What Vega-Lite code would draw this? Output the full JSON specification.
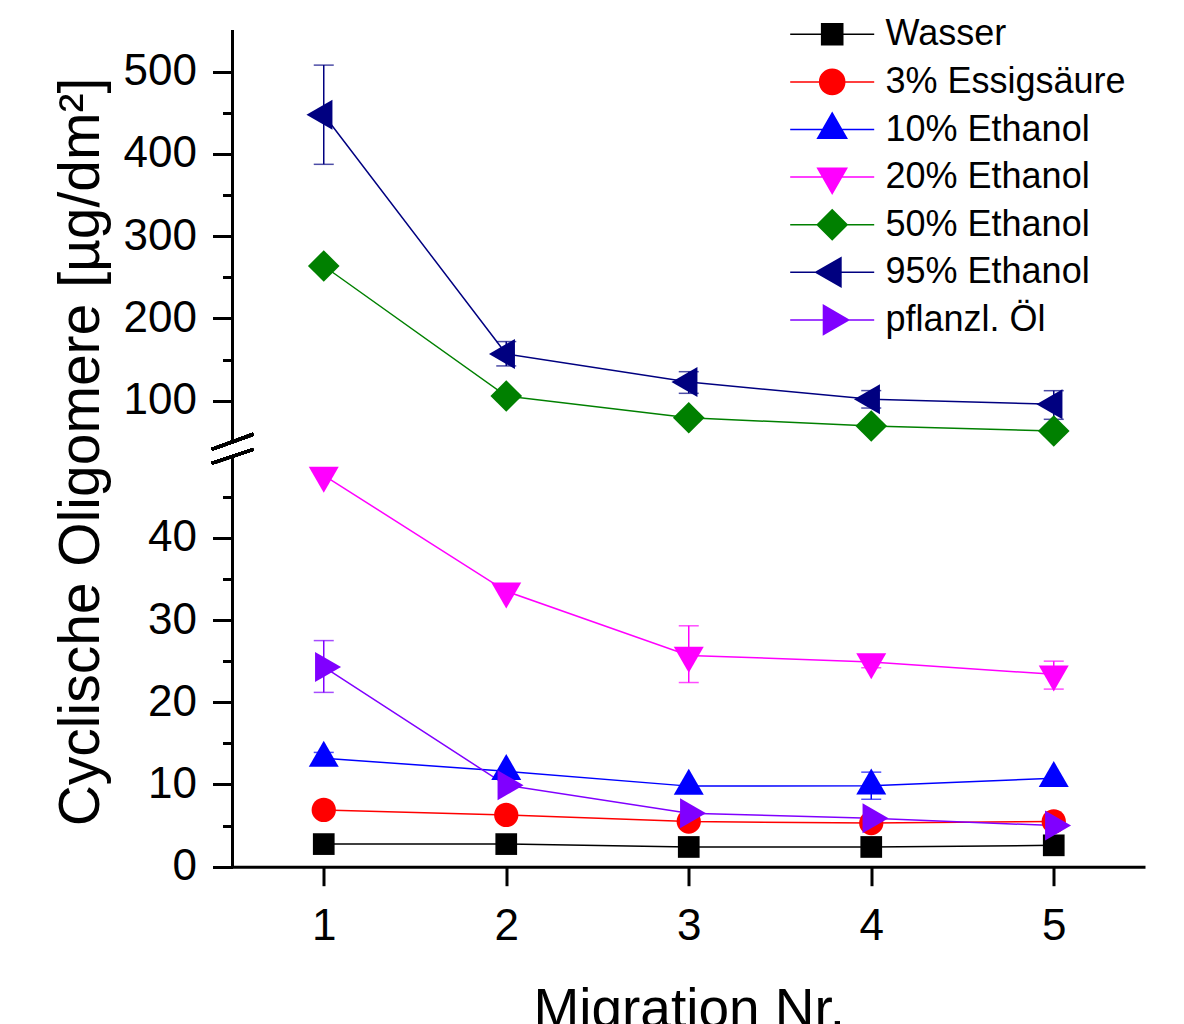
{
  "$schema": "https://vega.github.io/schema/vega-lite/v6.json",
  "autosize": {"type": "none"},
  "width": 912.5,
  "height": 836.7,
  "padding": {"left": 232.5, "top": 30, "right": 39, "bottom": 157.3},
  "config": {
    "view": {"stroke": null},
    "font": "Liberation Sans",
    "axis": {"grid": false, "labelFont": "Liberation Sans", "titleFont": "Liberation Sans", "labelColor": "black", "titleColor": "black", "domainColor": "black", "tickColor": "black", "titleFontWeight": "normal"},
    "legend": {"labelFont": "Liberation Sans", "labelColor": "black", "labelLimit": 0}
  },
  "data": {
    "values": [
      {"series": "Wasser", "x": 1, "y": 2.75},
      {"series": "Wasser", "x": 2, "y": 2.75},
      {"series": "Wasser", "x": 3, "y": 2.4},
      {"series": "Wasser", "x": 4, "y": 2.4},
      {"series": "Wasser", "x": 5, "y": 2.6},
      {"series": "3% Essigsäure", "x": 1, "y": 6.9},
      {"series": "3% Essigsäure", "x": 2, "y": 6.3},
      {"series": "3% Essigsäure", "x": 3, "y": 5.5},
      {"series": "3% Essigsäure", "x": 4, "y": 5.3},
      {"series": "3% Essigsäure", "x": 5, "y": 5.5},
      {"series": "10% Ethanol", "x": 1, "y": 13.2, "lo": 12.5, "hi": 13.9},
      {"series": "10% Ethanol", "x": 2, "y": 11.6},
      {"series": "10% Ethanol", "x": 3, "y": 9.8},
      {"series": "10% Ethanol", "x": 4, "y": 9.85, "lo": 8.2, "hi": 11.5},
      {"series": "10% Ethanol", "x": 5, "y": 10.75},
      {"series": "20% Ethanol", "x": 1, "y": 47.6},
      {"series": "20% Ethanol", "x": 2, "y": 33.5},
      {"series": "20% Ethanol", "x": 3, "y": 25.7, "lo": 22.4, "hi": 29.3},
      {"series": "20% Ethanol", "x": 4, "y": 24.9, "lo": 24.2, "hi": 25.6},
      {"series": "20% Ethanol", "x": 5, "y": 23.4, "lo": 21.6, "hi": 25.0},
      {"series": "50% Ethanol", "x": 1, "y": 263.8},
      {"series": "50% Ethanol", "x": 2, "y": 105.7},
      {"series": "50% Ethanol", "x": 3, "y": 79.3},
      {"series": "50% Ethanol", "x": 4, "y": 69.2},
      {"series": "50% Ethanol", "x": 5, "y": 63.2},
      {"series": "95% Ethanol", "x": 1, "y": 447.7, "lo": 387.4, "hi": 508.0},
      {"series": "95% Ethanol", "x": 2, "y": 156.8, "lo": 142.3, "hi": 171.9},
      {"series": "95% Ethanol", "x": 3, "y": 122.7, "lo": 109.0, "hi": 135.3},
      {"series": "95% Ethanol", "x": 4, "y": 101.7, "lo": 91.1, "hi": 112.3},
      {"series": "95% Ethanol", "x": 5, "y": 95.6, "lo": 77.4, "hi": 112.2},
      {"series": "pflanzl. Öl", "x": 1, "y": 24.3, "lo": 21.2, "hi": 27.5},
      {"series": "pflanzl. Öl", "x": 2, "y": 9.9},
      {"series": "pflanzl. Öl", "x": 3, "y": 6.5},
      {"series": "pflanzl. Öl", "x": 4, "y": 5.9},
      {"series": "pflanzl. Öl", "x": 5, "y": 5.0}
    ]
  },
  "resolve": {"scale": {"y": "shared", "color": "independent", "shape": "independent"}, "axis": {"y": "independent"}, "legend": {"color": "independent", "shape": "independent"}},
  "layer": [
    {
      "transform": [{"filter": "isValid(datum.lo)"}],
      "mark": {"type": "errorbar", "thickness": 1.5, "ticks": {"size": 20, "thickness": 1.5}},
      "encoding": {
        "x": {"field": "x", "type": "quantitative",
          "scale": {"domain": [0.5, 5.5], "nice": false, "zero": false},
          "axis": {"values": [1, 2, 3, 4, 5], "format": "d", "title": "Migration Nr.", "titleFontSize": 55, "titleBaseline": "alphabetic", "titleY": 159.5, "labelFontSize": 44, "labelPadding": 19, "tickSize": 19, "tickWidth": 3, "domainWidth": 3, "labelFlush": false}},
        "y": {"field": "lo", "type": "quantitative",
          "scale": {"domain": [0, 50, 50.3, 550.7], "range": [836.7, 425.6, 411.6, 0], "nice": false, "zero": false},
          "axis": {"values": [0, 10, 20, 30, 40, 100, 200, 300, 400, 500], "format": "d", "title": "Cyclische Oligomere [µg/dm²]", "titleFontSize": 57, "titleAngle": -90, "titleBaseline": "alphabetic", "titleAlign": "center", "titleX": -134.5, "titleY": 421.5, "labelFontSize": 44, "labelPadding": 16, "tickSize": 20, "tickWidth": 3, "domain": false, "labelFlush": false, "labelOverlap": false, "orient": "left"}},
        "y2": {"field": "hi"},
        "color": {"field": "series", "type": "nominal", "legend": null,
          "scale": {"domain": ["Wasser", "3% Essigsäure", "10% Ethanol", "20% Ethanol", "50% Ethanol", "95% Ethanol", "pflanzl. Öl"],
                    "range": ["#000000", "#FF0000", "#0000FF", "#FF00FF", "#008000", "#000080", "#8000FF"]}}
      }
    },
    {
      "mark": {"type": "line", "strokeWidth": 1.5},
      "encoding": {
        "x": {"field": "x", "type": "quantitative"},
        "y": {"field": "y", "type": "quantitative", "axis": null},
        "color": {"field": "series", "type": "nominal", "legend": null,
          "scale": {"domain": ["Wasser", "3% Essigsäure", "10% Ethanol", "20% Ethanol", "50% Ethanol", "95% Ethanol", "pflanzl. Öl"],
                    "range": ["#000000", "#FF0000", "#0000FF", "#FF00FF", "#008000", "#000080", "#8000FF"]}}
      }
    },
    {
      "mark": {"type": "point", "filled": true, "opacity": 1, "size": 400},
      "encoding": {
        "x": {"field": "x", "type": "quantitative"},
        "y": {"field": "y", "type": "quantitative", "axis": null},
        "color": {"field": "series", "type": "nominal", "legend": null,
          "scale": {"domain": ["Wasser", "3% Essigsäure", "10% Ethanol", "20% Ethanol", "50% Ethanol", "95% Ethanol", "pflanzl. Öl"],
                    "range": ["#000000", "#FF0000", "#0000FF", "#FF00FF", "#008000", "#000080", "#8000FF"]}},
        "shape": {"field": "series", "type": "nominal", "legend": null,
          "scale": {"domain": ["Wasser", "3% Essigsäure", "10% Ethanol", "20% Ethanol", "50% Ethanol", "95% Ethanol", "pflanzl. Öl"],
                    "range": ["M-1.085,-1.085H1.085V1.085H-1.085Z", "M-1.215,0A1.215,1.215,0,1,1,1.215,0A1.215,1.215,0,1,1,-1.215,0Z", "M0,-1.73L1.5,0.87L-1.5,0.87Z", "M0,1.73L1.5,-0.87L-1.5,-0.87Z", "M0,-1.58L1.58,0L0,1.58L-1.58,0Z", "M-1.73,0L0.87,-1.5L0.87,1.5Z", "M1.73,0L-0.87,-1.5L-0.87,1.5Z"]}}
      }
    },
    {
      "transform": [{"filter": "false"}],
      "mark": {"type": "point", "filled": true, "opacity": 1, "size": 400},
      "encoding": {
        "x": {"field": "x", "type": "quantitative"},
        "y": {"field": "y", "type": "quantitative", "axis": null},
        "color": {"field": "series", "type": "nominal",
          "scale": {"domain": ["Wasser", "3% Essigsäure", "10% Ethanol", "20% Ethanol", "50% Ethanol", "95% Ethanol", "pflanzl. Öl"],
                    "range": ["#000000", "#FF0000", "#0000FF", "#FF00FF", "#008000", "#000080", "#8000FF"]},
          "legend": {"title": null, "orient": "none", "legendX": 581.7, "legendY": -13.7, "labelFontSize": 36, "labelLimit": 0, "symbolSize": 400, "labelOffset": 35.3, "rowPadding": 11.6, "padding": 0}},
        "shape": {"field": "series", "type": "nominal",
          "scale": {"domain": ["Wasser", "3% Essigsäure", "10% Ethanol", "20% Ethanol", "50% Ethanol", "95% Ethanol", "pflanzl. Öl"],
                    "range": ["M-4.2,-0.075H4.2V0.075H-4.2ZM-1.13,-1.13H1.13V1.13H-1.13Z", "M-4.2,-0.075H4.2V0.075H-4.2ZM-1.33,0A1.33,1.33,0,1,1,1.33,0A1.33,1.33,0,1,1,-1.33,0Z", "M-4.2,-0.075H4.2V0.075H-4.2ZM0,-1.8L1.58,0.95L-1.58,0.95Z", "M-4.2,-0.075H4.2V0.075H-4.2ZM0,1.8L-1.58,-0.95L1.58,-0.95Z", "M-4.2,-0.075H4.2V0.075H-4.2ZM0,-1.6L1.6,0L0,1.6L-1.6,0Z", "M-4.2,-0.075H4.2V0.075H-4.2ZM-1.8,0L0.95,-1.58L0.95,1.58Z", "M-4.2,-0.075H4.2V0.075H-4.2ZM1.8,0L-0.95,1.58L-0.95,-1.58Z"]},
          "legend": {"title": null, "orient": "none", "legendX": 581.7, "legendY": -13.7, "labelFontSize": 36, "labelLimit": 0, "symbolSize": 400, "labelOffset": 35.3, "rowPadding": 11.6, "padding": 0}}
      }
    },
    {
      "mark": {"type": "rule", "strokeWidth": 3, "color": "black"},
      "encoding": {
        "x": {"datum": 0.5, "type": "quantitative"},
        "y": {"datum": 0, "type": "quantitative",
          "axis": {"values": [5, 15, 25, 35, 45, 150, 250, 350, 450], "labels": false, "title": null, "tickSize": 10, "tickWidth": 3, "domain": false, "orient": "left"}},
        "y2": {"datum": 50}
      }
    },
    {
      "mark": {"type": "rule", "strokeWidth": 3, "color": "black"},
      "encoding": {
        "x": {"datum": 0.5, "type": "quantitative"},
        "y": {"datum": 50.3, "type": "quantitative", "axis": null},
        "y2": {"datum": 550.7}
      }
    },
    {
      "mark": {"type": "rule", "strokeWidth": 3, "color": "black"},
      "encoding": {
        "x": {"datum": 0.386, "type": "quantitative"},
        "x2": {"datum": 0.614},
        "y": {"datum": 50.135, "type": "quantitative", "axis": null},
        "y2": {"datum": 59.2}
      }
    },
    {
      "mark": {"type": "rule", "strokeWidth": 3, "color": "black"},
      "encoding": {
        "x": {"datum": 0.386, "type": "quantitative"},
        "x2": {"datum": 0.614},
        "y": {"datum": 49.05, "type": "quantitative", "axis": null},
        "y2": {"datum": 50.135}
      }
    }
  ]
}
